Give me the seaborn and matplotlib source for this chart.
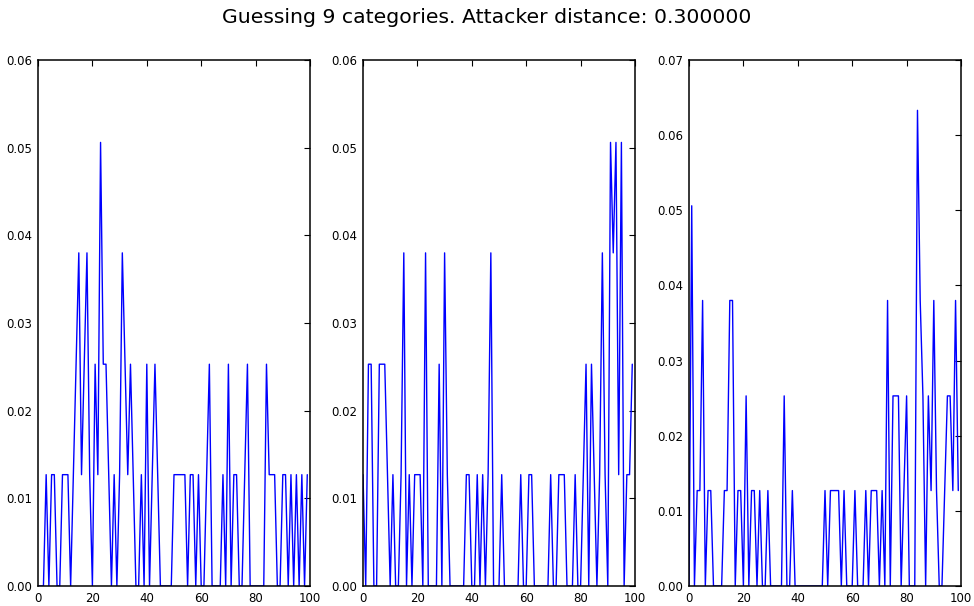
import matplotlib
matplotlib.use("Agg")
import matplotlib.pyplot as plt
import seaborn as sns
import numpy as np
import pandas as pd

title = "Guessing 9 categories. Attacker distance: 0.300000"

x_vals = list(range(100))

panel1 = [0, 0, 0, .0127, 0, .0127, .0127, 0, 0, .0127,
          .0127, .0127, 0, .0127, .0253, .038, .0127, .0253, .038, .0127,
          0, .0253, .0127, .0506, .0253, .0253, .0127, 0, .0127, 0,
          .0127, .038, .0253, .0127, .0253, .0127, 0, 0, .0127, 0,
          .0253, 0, .0127, .0253, .0127, 0, 0, 0, 0, 0,
          .0127, .0127, .0127, .0127, .0127, 0, .0127, .0127, 0, .0127,
          0, 0, .0127, .0253, 0, 0, 0, 0, .0127, 0,
          .0253, 0, .0127, .0127, 0, 0, .0127, .0253, 0, 0,
          0, 0, 0, 0, .0253, .0127, .0127, .0127, 0, 0,
          .0127, .0127, 0, .0127, 0, .0127, 0, .0127, 0, .0127]

panel2 = [.0127, 0, .0253, .0253, 0, 0, .0253, .0253, .0253, .0127,
          0, .0127, 0, 0, .0127, .038, 0, .0127, 0, .0127,
          .0127, .0127, 0, .038, 0, 0, 0, 0, .0253, 0,
          .038, .0127, 0, 0, 0, 0, 0, 0, .0127, .0127,
          0, 0, .0127, 0, .0127, 0, .0127, .038, 0, 0,
          0, .0127, 0, 0, 0, 0, 0, 0, .0127, 0,
          0, .0127, .0127, 0, 0, 0, 0, 0, 0, .0127,
          0, 0, .0127, .0127, .0127, 0, 0, 0, .0127, 0,
          0, .0127, .0253, 0, .0253, .0127, 0, .0127, .038, .0127,
          0, .0506, .038, .0506, .0127, .0506, 0, .0127, .0127, .0253]

panel3 = [0, .0506, 0, .0127, .0127, .038, 0, .0127, .0127, 0,
          0, 0, 0, .0127, .0127, .038, .038, 0, .0127, .0127,
          0, .0253, 0, .0127, .0127, 0, .0127, 0, 0, .0127,
          0, 0, 0, 0, 0, .0253, 0, 0, .0127, 0,
          0, 0, 0, 0, 0, 0, 0, 0, 0, 0,
          .0127, 0, .0127, .0127, .0127, .0127, 0, .0127, 0, 0,
          0, .0127, 0, 0, 0, .0127, 0, .0127, .0127, .0127,
          0, .0127, 0, .038, 0, .0253, .0253, .0253, 0, .0127,
          .0253, 0, 0, 0, .0633, .038, .0253, 0, .0253, .0127,
          .038, .0127, 0, 0, .0127, .0253, .0253, .0127, .038, .0127]

x_ticks = [0, 20, 40, 60, 80, 100]
y_ticks_12 = [0.00, 0.01, 0.02, 0.03, 0.04, 0.05, 0.06]
y_ticks_3 = [0.00, 0.01, 0.02, 0.03, 0.04, 0.05, 0.06, 0.07]

sns.set_style("white")
plt.rcParams['font.family'] = ['DejaVu Sans']

fig = plt.figure(figsize=(9.74, 6.06), dpi=100)
lefts = [38 / 974, 363 / 974, 689 / 974]
width = 272 / 974
bottom = 20 / 606
height = 526 / 606

series = [panel1, panel2, panel3]
yts = [y_ticks_12, y_ticks_12, y_ticks_3]
ylims = [0.06, 0.06, 0.07]

for left, vals, yt, ym in zip(lefts, series, yts, ylims):
    ax = fig.add_axes([left, bottom, width, height])
    df = pd.DataFrame({"x": x_vals, "y": vals})
    sns.lineplot(data=df, x="x", y="y", ax=ax, color="#0000ff", linewidth=1.0)
    ax.set_xlim(0, 100)
    ax.set_ylim(0, ym)
    ax.set_xticks(x_ticks)
    ax.set_yticks(yt)
    ax.set_yticklabels([f"{v:.2f}" for v in yt])
    ax.set_xlabel("")
    ax.set_ylabel("")
    ax.tick_params(direction="in", top=True, right=True, length=4, width=0.8,
                   labelsize=8.5, colors="black", pad=4)
    for s in ax.spines.values():
        s.set_visible(True)
        s.set_color("black")
        s.set_linewidth(1.1)
        s.set_zorder(5)

fig.suptitle(title, fontsize=14.7, y=0.987, color="black")
fig.savefig("out.png", dpi=100, facecolor="white")
